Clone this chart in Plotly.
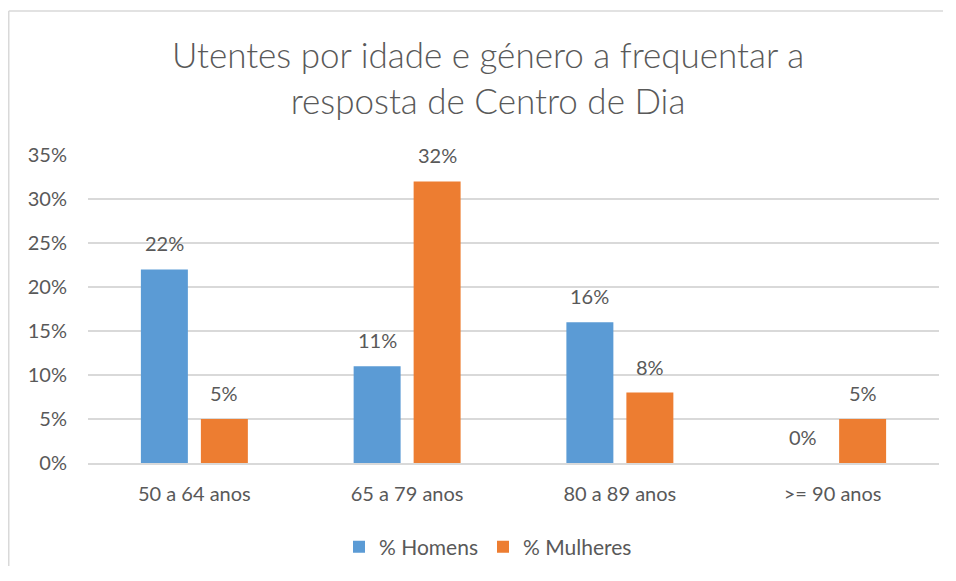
import plotly.graph_objects as go

categories = ["50 a 64 anos", "65 a 79 anos", "80 a 89 anos", ">= 90 anos"]
homens = [0.22, 0.11, 0.16, 0.0]
mulheres = [0.05, 0.32, 0.08, 0.05]
series_names = ["% Homens", "% Mulheres"]
title_text = "Utentes por idade e género a frequentar a<br>resposta de Centro de Dia"

FONT = "Lato"
TXT = "#595959"
OFF = 8  # browser body margin
W, H = 935, 558
L, T = 88 - OFF, 155 - OFF
pw, ph = 851, 308
R, B = W - L - pw, H - T - ph

fig = go.Figure()
series = [(series_names[0], homens, "#5B9BD5", -30), (series_names[1], mulheres, "#ED7D31", 30)]
for name, vals, col, dx in series:
    fig.add_trace(go.Bar(
        x=categories, y=vals, name=name, marker=dict(color=col, line=dict(width=0)),
    ))
    for c, v in zip(categories, vals):
        fig.add_annotation(x=c, y=v, text=f"{v:.0%}", showarrow=False,
                           xshift=dx, yshift=26, yanchor="middle",
                           font=dict(family=FONT, size=20, color=TXT))

fig.update_layout(
    width=W, height=H,
    margin=dict(l=L, r=R, t=T, b=B),
    paper_bgcolor="white", plot_bgcolor="white",
    barmode="group", bargap=0.436, bargroupgap=0.217,
    font=dict(family=FONT, color=TXT, size=20),
    title=dict(text=title_text, x=(488 - OFF) / W, xanchor="center", xref="container",
               y=1 - (68 - OFF) / H, yanchor="middle", yref="container",
               font=dict(family=FONT, size=35, color=TXT, weight=300)),
    legend=dict(orientation="h", x=(488 - OFF) / W, xanchor="center", xref="container",
                y=1 - (547 - OFF) / H, yanchor="middle", yref="container",
                font=dict(family=FONT, size=21, color=TXT), itemwidth=30,
                traceorder="normal"),
    xaxis=dict(showline=True, linecolor="#d9d9d9", linewidth=1.5, ticks="",
               ticklabelstandoff=12, automargin=False,
               tickfont=dict(family=FONT, size=20, color=TXT)),
    yaxis=dict(range=[0, 0.35], dtick=0.05, tickformat=".0%", showgrid=True,
               gridcolor="#d9d9d9", gridwidth=1.5, zeroline=False, ticks="",
               ticklabelstandoff=20, automargin=False,
               tickfont=dict(family=FONT, size=20, color=TXT)),
    showlegend=True,
)

# chart-area border (left and top edges visible in the reference)
bx0 = (0.75 - L) / pw
by1 = (T + ph - 3) / ph
fig.add_shape(type="line", xref="paper", yref="paper",
              x0=bx0, x1=bx0, y0=(T + ph - H) / ph, y1=by1,
              line=dict(color="#d9d9d9", width=1.5), layer="below")
fig.add_shape(type="line", xref="paper", yref="paper",
              x0=bx0, x1=(W - L) / pw, y0=by1, y1=by1,
              line=dict(color="#d9d9d9", width=1.5), layer="below")

fig.write_html("out.html")
